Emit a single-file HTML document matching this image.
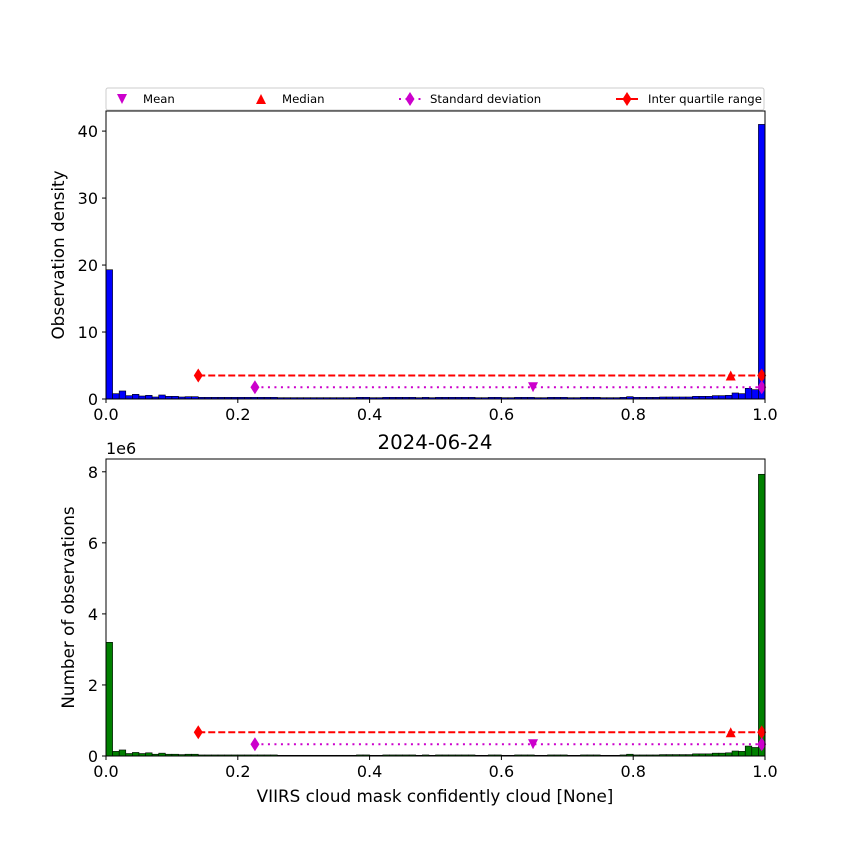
<!DOCTYPE html>
<html><head><meta charset="utf-8"><style>
body{margin:0;background:#fff}
svg text{font-family:"DejaVu Sans","Liberation Sans",sans-serif}
</style></head><body>
<svg id="c" width="850" height="850" xmlns="http://www.w3.org/2000/svg"></svg>
<script>
const binWidth = 0.01;
const densityValues = [19.3,0.8,1.2,0.5,0.7,0.45,0.55,0.3,0.6,0.4,0.4,0.3,0.35,0.35,0.25,0.25,0.25,0.25,0.25,0.25,0.25,0.25,0.25,0.25,0.25,0.25,0.2,0.2,0.2,0.2,0.2,0.2,0.2,0.2,0.2,0.2,0.2,0.2,0.25,0.25,0.2,0.2,0.25,0.25,0.25,0.25,0.25,0.2,0.25,0.2,0.25,0.25,0.25,0.25,0.25,0.25,0.2,0.2,0.25,0.25,0.2,0.2,0.25,0.25,0.25,0.2,0.2,0.25,0.25,0.25,0.2,0.2,0.25,0.25,0.25,0.2,0.2,0.2,0.25,0.35,0.25,0.25,0.25,0.25,0.3,0.3,0.3,0.3,0.3,0.4,0.4,0.4,0.5,0.5,0.55,0.9,0.8,1.6,1.4,41.0];
const countValues = [3.2,0.13,0.17,0.07,0.1,0.07,0.09,0.05,0.08,0.05,0.05,0.04,0.05,0.05,0.03,0.03,0.03,0.03,0.03,0.03,0.03,0.03,0.03,0.03,0.03,0.03,0.02,0.02,0.02,0.02,0.02,0.02,0.02,0.02,0.02,0.02,0.02,0.02,0.03,0.03,0.02,0.02,0.03,0.03,0.03,0.03,0.03,0.02,0.03,0.02,0.03,0.03,0.03,0.03,0.03,0.03,0.02,0.02,0.03,0.03,0.02,0.02,0.03,0.03,0.03,0.02,0.02,0.03,0.03,0.03,0.02,0.02,0.03,0.03,0.03,0.02,0.02,0.02,0.03,0.05,0.03,0.03,0.03,0.03,0.04,0.04,0.04,0.04,0.04,0.06,0.06,0.06,0.08,0.08,0.09,0.14,0.13,0.28,0.24,7.93];
const xTicks = [0,0.2,0.4,0.6,0.8,1.0];
const xTickLabels = ["0.0","0.2","0.4","0.6","0.8","1.0"];
const yTicksTop = [0,10,20,30,40];
const yTicksBottom = [0,2,4,6,8];
const statMean = 0.648, statMedian = 0.948;
const stdRange = [0.226,0.995], iqrRange = [0.14,0.995];
const statYTop = {iqr:3.5, std:1.75};
const statYBottom = {iqr:0.67, std:0.33};

const svg = document.getElementById('c');
const NS = "http://www.w3.org/2000/svg";
function el(tag, attrs, parent){const e=document.createElementNS(NS,tag);for(const k in attrs)e.setAttribute(k,attrs[k]);(parent||svg).appendChild(e);return e;}

function panel(cfg){
  const g = el('g',{});
  
  
  const L=106,R=765,T=cfg.top,B=cfg.bottom;
  const xs=v=>L+(R-L)*v;
  const ys=v=>B-(B-T)*v/cfg.ymax;
  cfg.values.forEach((v,i)=>{
    const x0=xs(i*binWidth), x1=xs((i+1)*binWidth);
    const r=el('rect',{x:x0,y:ys(v),width:x1-x0,height:B-ys(v),fill:cfg.color,stroke:'#000','stroke-width':0.6},g);
    
    
  });
  const iy=ys(cfg.stat.iqr), sy=ys(cfg.stat.std);
  el('line',{x1:xs(iqrRange[0]),x2:xs(iqrRange[1]),y1:iy,y2:iy,stroke:'#f00','stroke-width':2,'stroke-dasharray':'7,3'},g);
  el('line',{x1:xs(stdRange[0]),x2:xs(stdRange[1]),y1:sy,y2:sy,stroke:'#c0c','stroke-width':2,'stroke-dasharray':'2,4.5'},g);
  const dia=(x,y,c)=>el('path',{d:`M${x},${y-7}L${x+4.5},${y}L${x},${y+7}L${x-4.5},${y}Z`,fill:c},g);
  dia(xs(iqrRange[0]),iy,'#f00');dia(xs(iqrRange[1]),iy,'#f00');
  dia(xs(stdRange[0]),sy,'#c0c');dia(xs(stdRange[1]),sy,'#c0c');
  const mx=xs(statMean);el('path',{d:`M${mx-5},${sy-5}L${mx+5},${sy-5}L${mx},${sy+5}Z`,fill:'#c0c'},g);
  const md=xs(statMedian);el('path',{d:`M${md-5},${iy+5}L${md+5},${iy+5}L${md},${iy-5}Z`,fill:'#f00'},g);
  el('rect',{x:L,y:T,width:R-L,height:B-T,fill:'none',stroke:'#000','stroke-width':1},g);
  xTicks.forEach((t,i)=>{
    el('line',{x1:xs(t),x2:xs(t),y1:B,y2:B+4,stroke:'#000'},g);
    const tx=el('text',{x:xs(t),y:B+21,'font-size':16,'text-anchor':'middle'},g);tx.textContent=xTickLabels[i];
    
  });
  cfg.yt.forEach(t=>{
    el('line',{x1:L-4,x2:L,y1:ys(t),y2:ys(t),stroke:'#000'},g);
    const tx=el('text',{x:L-8,y:ys(t)+6,'font-size':16,'text-anchor':'end'},g);tx.textContent=t;
    
  });
  const yl=el('text',{x:0,y:0,'font-size':16.8,'text-anchor':'middle',transform:`translate(${cfg.ylx},${(T+B)/2}) rotate(-90)`},g);
  yl.textContent=cfg.ylabel;
  
}
panel({name:'density-panel',top:111,bottom:399,ymax:43,values:densityValues,color:'#00f',yt:yTicksTop,stat:statYTop,ylabel:'Observation density',ylx:64});
panel({name:'count-panel',top:459,bottom:756,ymax:8.36,values:countValues,color:'#008000',yt:yTicksBottom,stat:statYBottom,ylabel:'Number of observations',ylx:74});

let t=el('text',{x:106,y:454,'font-size':16});t.textContent='1e6';

t=el('text',{x:435,y:449,'font-size':19.8,'text-anchor':'middle'});t.textContent='2024-06-24';

t=el('text',{x:435,y:802,'font-size':16.8,'text-anchor':'middle'});t.textContent='VIIRS cloud mask confidently cloud [None]';


const lg=el('g',{});


el('rect',{x:106,y:88,width:658,height:22,fill:'#fff',stroke:'#ccc',rx:2},lg);
const ly=99;
el('path',{d:`M117,${ly-5}L127,${ly-5}L122,${ly+5}Z`,fill:'#c0c'},lg);
el('path',{d:`M256,${ly+5}L266,${ly+5}L261,${ly-5}Z`,fill:'#f00'},lg);
el('line',{x1:399,x2:421,y1:ly,y2:ly,stroke:'#c0c','stroke-width':2,'stroke-dasharray':'2,4.5'},lg);
el('path',{d:`M410,${ly-7}L414.5,${ly}L410,${ly+7}L405.5,${ly}Z`,fill:'#c0c'},lg);
el('line',{x1:616,x2:638,y1:ly,y2:ly,stroke:'#f00','stroke-width':2},lg);
el('path',{d:`M627,${ly-7}L631.5,${ly}L627,${ly+7}L622.5,${ly}Z`,fill:'#f00'},lg);
[['Mean',143],['Median',282],['Standard deviation',430],['Inter quartile range',648]].forEach(([s,x])=>{
  const e=el('text',{x:x,y:ly+4,'font-size':11.7},lg);e.textContent=s;
  
});
</script>
</body></html>
